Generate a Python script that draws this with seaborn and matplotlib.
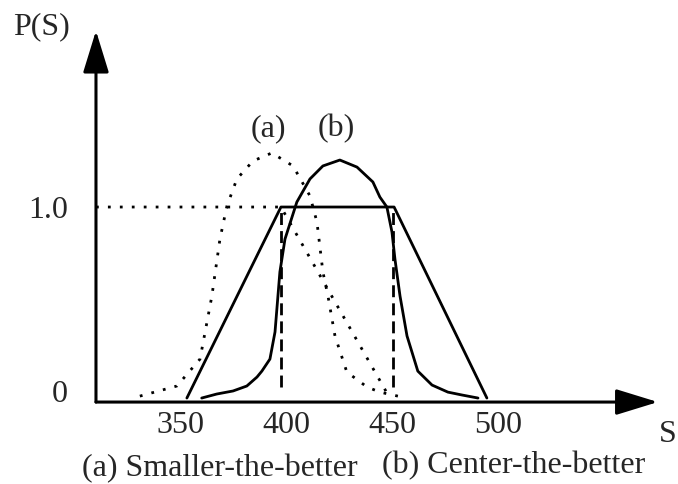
import matplotlib
matplotlib.use("Agg")
from matplotlib import pyplot as plt
import seaborn as sns

# (a) smaller-the-better: distribution (dotted bell) and desirability (dotted)
sb_curve_s = [331.0, 348.5, 359.4, 365.0, 368.8, 372.1, 376.8, 384.4, 393.3,
              403.3, 411.3, 414.6, 417.4, 419.8, 423.1, 428.7, 438.2, 444.3,
              452.8]
sb_curve_p = [0.01, 0.063, 0.204, 0.534, 0.832, 1.005, 1.147, 1.241, 1.283,
              1.215, 1.058, 0.921, 0.66, 0.534, 0.325, 0.136, 0.058, 0.031,
              0.01]
sb_target_s = [310.3, 397.6, 449.0]
sb_target_p = [1.0, 1.0, 0.0]

# (b) center-the-better: distribution (solid bell) and trapezoid
cb_curve_s = [360.2, 367.3, 375.0, 381.5, 386.3, 388.6, 392.4, 394.8, 397.1,
              399.5, 405.1, 411.3, 417.4, 425.4, 433.5, 441.0, 444.3, 447.6,
              450.0, 451.4, 453.8, 457.1, 462.2, 468.9, 476.4, 483.0, 490.6]
cb_curve_p = [0.0, 0.021, 0.037, 0.063, 0.110, 0.141, 0.204, 0.346, 0.66,
              0.832, 1.026, 1.147, 1.215, 1.246, 1.209, 1.131, 1.052, 1.0,
              0.869, 0.728, 0.534, 0.325, 0.141, 0.068, 0.031, 0.016, 0.0]
cb_target_s = [353.2, 397.6, 451.0, 494.8]
cb_target_p = [0.0, 1.0, 1.0, 0.0]

# spec limits (dashed verticals)
spec_limits = [397.6, 450.4]
spec_low, spec_high = 0.06, 1.0

tick_values = [350, 400, 450, 500]
y_labels = ["0", "1.0"]
y_label_values = [-0.014, 0.948]

sns.set_theme(style="white")
plt.rcParams['font.family'] = ['Liberation Serif', 'DejaVu Serif']

fig = plt.figure(figsize=(6.78, 4.85), dpi=100)
ax = fig.add_axes([0, 0, 1, 1])
ax.set_xlim(265.0, 585.0)
ax.set_ylim(-0.450, 2.089)
ax.set_axis_off()

dotted = (0, (1, 3.3))
sns.lineplot(x=sb_curve_s, y=sb_curve_p, ax=ax, sort=False, estimator=None,
             color="black", lw=2.0, linestyle=dotted)
sns.lineplot(x=sb_target_s, y=sb_target_p, ax=ax, sort=False, estimator=None,
             color="black", lw=2.0, linestyle=dotted)
sns.lineplot(x=cb_curve_s, y=cb_curve_p, ax=ax, sort=False, estimator=None,
             color="black", lw=2.0)
sns.lineplot(x=cb_target_s, y=cb_target_p, ax=ax, sort=False, estimator=None,
             color="black", lw=2.0)
ax.vlines(spec_limits, spec_low, spec_high, colors="black", lw=2.0,
          linestyles=[(0, (4.3, 2.2))])

# axes drawn as arrows
origin_s, origin_p = 310.3, -0.021
arrow = dict(arrowstyle="-|>,head_length=2.6,head_width=0.8",
             mutation_scale=10, lw=2.2, color="black", shrinkA=0, shrinkB=0)
ax.annotate("", xy=(origin_s, 1.923), xytext=(origin_s, origin_p),
            arrowprops=arrow)
ax.annotate("", xy=(575.5, origin_p), xytext=(origin_s, origin_p),
            arrowprops=arrow)

fs = 23
for v in tick_values:
    ax.text(v, -0.178, str(v), ha="center", va="baseline", fontsize=fs)
for lab, v in zip(y_labels, y_label_values):
    ax.text(297.0, v, lab, ha="right", va="baseline", fontsize=fs)

ax.text(271.3, 1.911, "P(S)", ha="left", va="baseline", fontsize=fs)
ax.text(580.0, -0.225, "S", ha="center", va="baseline", fontsize=fs)
ax.text(391.7, 1.377, "(a)", ha="center", va="baseline", fontsize=fs)
ax.text(423.6, 1.377, "(b)", ha="center", va="baseline", fontsize=fs)
ax.text(368.8, -0.405, "(a) Smaller-the-better", ha="center",
        va="baseline", fontsize=fs)
ax.text(507.6, -0.390, "(b) Center-the-better", ha="center",
        va="baseline", fontsize=fs)

plt.savefig("out.png", dpi=100)
